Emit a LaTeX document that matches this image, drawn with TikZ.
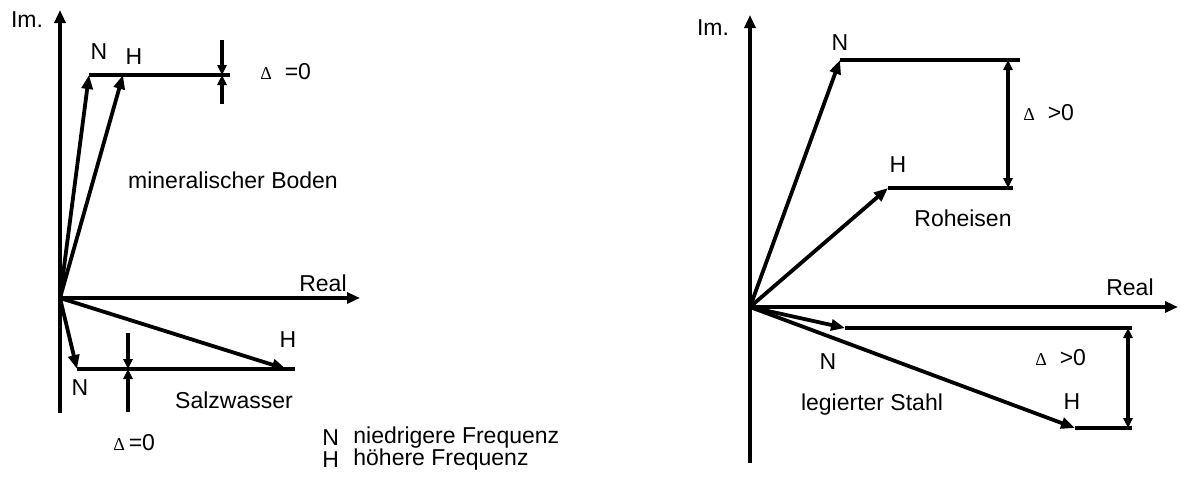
\documentclass[tikz,border=0pt]{standalone}
\usepackage{fontspec}
\setmainfont{Liberation Sans}
\newfontfamily\dfont{Liberation Serif}
\usetikzlibrary{arrows.meta}
\newcommand{\DD}{{\dfont\fontsize{9}{9}\selectfont Δ}}
\begin{document}
\begin{tikzpicture}[x=0.5pt,y=-0.5pt,
  ln/.style={line width=1.9pt},
  vec/.style={line width=1.9pt,-{Triangle[length=7pt,width=5.5pt]}},
  axis/.style={line width=1.9pt,-{Triangle[length=6.5pt,width=5.5pt]}},
  dim/.style={line width=1.7pt,-{Triangle[length=5pt,width=4.5pt]}},
  dimb/.style={line width=1.7pt,{Triangle[length=5pt,width=4.5pt]}-{Triangle[length=5pt,width=4.5pt]}},
  lab/.style={inner sep=0pt,font=\fontsize{11.5}{12}\selectfont}]
\useasboundingbox (0,0) rectangle (1180,477);
% ---------- left diagram ----------
\coordinate (O1) at (60,298);
\coordinate (Y1t) at (60,10);
\coordinate (Y1b) at (60,413);
\coordinate (X1r) at (360,298);
\coordinate (N1t) at (89,75);
\coordinate (H1t) at (123,75);
\coordinate (L1e) at (230,75);
\coordinate (D1a) at (222,40);
\coordinate (D1m) at (222,75);
\coordinate (D1b) at (222,104);
\coordinate (N1b) at (77,369);
\coordinate (H1b) at (286,369);
\coordinate (L2e) at (295,369);
\coordinate (D2a) at (128,333);
\coordinate (D2m) at (128,369);
\coordinate (D2b) at (128,412);
\draw[ln] (Y1b) -- (O1);
\draw[axis] (O1) -- (Y1t);
\draw[axis] (O1) -- (X1r);
\draw[ln] (N1t) -- (L1e);
\draw[vec] (O1) -- (N1t);
\draw[vec] (O1) -- (H1t);
\draw[dim] (D1a) -- (D1m);
\draw[dim] (D1b) -- (D1m);
\draw[ln] (N1b) -- (L2e);
\draw[vec] (O1) -- (N1b);
\draw[vec] (O1) -- (H1b);
\draw[dim] (D2a) -- (D2m);
\draw[dim] (D2b) -- (D2m);
\node[lab] (im1) at (27,20) {Im.};
\node[lab] (n1) at (99,52) {N};
\node[lab] (h1) at (134,57) {H};
\node[lab,anchor=west] (d1) at (260,72) {\DD\ \ =0};
\node[lab] (mb) at (233,180) {mineralischer Boden};
\node[lab] (re1) at (323,283) {Real};
\node[lab] (h2) at (288,340) {H};
\node[lab] (n2) at (80,388) {N};
\node[lab] (sw) at (234,400) {Salzwasser};
\node[lab,anchor=west] (d2) at (113,443) {\DD\,=0};
\node[lab,anchor=west] (lgN) at (322,438) {N};
\node[lab,anchor=west] (lgNt) at (353,438) {niedrigere Frequenz};
\node[lab,anchor=west] (lgH) at (322,460) {H};
\node[lab,anchor=west] (lgHt) at (353,460) {höhere Frequenz};
% ---------- right diagram ----------
\coordinate (O2) at (750,307);
\coordinate (Y2t) at (750,15);
\coordinate (Y2b) at (750,463);
\coordinate (X2r) at (1178,307);
\coordinate (N2t) at (840,60);
\coordinate (N2e) at (1020,60);
\coordinate (H2t) at (888,188);
\coordinate (H2e) at (1013,188);
\coordinate (D3a) at (1008,60);
\coordinate (D3b) at (1008,188);
\coordinate (N2b) at (845,328);
\coordinate (N2f) at (1132,328);
\coordinate (H2b) at (1075,428);
\coordinate (H2f) at (1132,428);
\coordinate (D4a) at (1128,328);
\coordinate (D4b) at (1128,428);
\draw[ln] (Y2b) -- (O2);
\draw[axis] (O2) -- (Y2t);
\draw[axis] (O2) -- (X2r);
\draw[ln] (N2t) -- (N2e);
\draw[ln] (H2t) -- (H2e);
\draw[vec] (O2) -- (N2t);
\draw[vec] (O2) -- (H2t);
\draw[dimb] (D3a) -- (D3b);
\draw[ln] (N2b) -- (N2f);
\draw[ln] (H2b) -- (H2f);
\draw[vec] (O2) -- (N2b);
\draw[vec] (O2) -- (H2b);
\draw[dimb] (D4a) -- (D4b);
\node[lab] (im2) at (713,28) {Im.};
\node[lab] (n3) at (840,43) {N};
\node[lab] (h3) at (898,165) {H};
\node[lab,anchor=west] (d3) at (1023,113) {\DD\ \ >0};
\node[lab] (rh) at (963,218) {Roheisen};
\node[lab] (re2) at (1130,287) {Real};
\node[lab] (n4) at (828,362) {N};
\node[lab,anchor=west] (d4) at (1035,358) {\DD\ \ >0};
\node[lab] (h4) at (1072,402) {H};
\node[lab] (ls) at (872,405) {legierter Stahl};
\end{tikzpicture}
\end{document}
